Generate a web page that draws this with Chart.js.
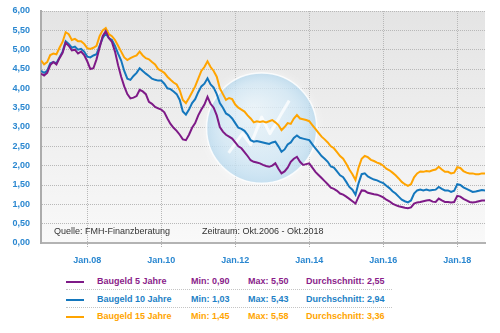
<!DOCTYPE html>
<html><head><meta charset="utf-8">
<script src="https://cdn.jsdelivr.net/npm/chart.js@4"></script>
<style>
html,body{margin:0;padding:0;background:#fff;width:500px;height:333px;overflow:hidden;font-family:"Liberation Sans",Arial,sans-serif;}
#wrap{position:relative;width:500px;height:333px;}
#c{position:absolute;left:0;top:0;}
.lg{position:absolute;font-size:9px;font-weight:bold;line-height:11px;white-space:nowrap;}
.sw{position:absolute;height:2px;width:18px;}
.sep{position:absolute;left:66px;width:326px;height:0;border-top:1px dotted #c4c4c4;}
.note{position:absolute;font-size:9px;color:#333;line-height:11px;white-space:nowrap;}
</style></head>
<body><div id="wrap">
<canvas id="c" width="500" height="270"></canvas>
<div class="note" style="left:54px;top:226px">Quelle: FMH-Finanzberatung</div>
<div class="note" style="left:202px;top:226px">Zeitraum: Okt.2006 - Okt.2018</div>
<div id="legend"></div>
</div>
<script>
// ---- data ----
const seriesNames = ['Baugeld 5 Jahre', 'Baugeld 10 Jahre', 'Baugeld 15 Jahre'];
const seriesMin = ['0,90', '1,03', '1,45'];
const seriesMax = ['5,50', '5,43', '5,58'];
const seriesAvg = ['2,55', '2,94', '3,36'];
const tickYears = [2008, 2010, 2012, 2014, 2016, 2018];
const tickLabels = ['Jan.08', 'Jan.10', 'Jan.12', 'Jan.14', 'Jan.16', 'Jan.18'];
const yTicks = [0, 0.5, 1, 1.5, 2, 2.5, 3, 3.5, 4, 4.5, 5, 5.5, 6];

// monthly categories Okt.2006 .. Okt.2018
const months = [];
for (let y = 2006, m = 10; y < 2018 || (y === 2018 && m <= 10); m++) {
  if (m > 12) { m = 1; y++; }
  months.push(y + '-' + String(m).padStart(2, '0'));
}

const baugeld5 = [
4.38,4.33,4.40,4.60,4.68,4.62,4.78,4.92,5.18,5.10,4.98,5.00,
4.90,4.95,4.86,4.70,4.50,4.52,4.75,5.05,5.35,5.48,5.30,5.20,
4.95,4.60,4.30,4.05,3.85,3.74,3.76,3.80,3.96,3.92,3.85,3.65,
3.60,3.52,3.48,3.45,3.38,3.22,3.08,2.98,2.90,2.80,2.68,2.66,
2.80,2.98,3.10,3.30,3.45,3.58,3.78,3.60,3.50,3.30,3.00,2.88,
2.80,2.75,2.70,2.60,2.50,2.45,2.35,2.25,2.14,2.10,2.08,2.06,
2.02,1.99,1.97,2.00,2.06,1.92,1.80,1.85,1.95,2.10,2.18,2.23,
2.10,2.02,2.04,2.06,1.95,1.84,1.76,1.68,1.60,1.52,1.43,1.40,
1.35,1.28,1.25,1.20,1.14,1.08,1.02,1.20,1.36,1.35,1.30,1.28,
1.26,1.25,1.22,1.18,1.12,1.08,1.02,0.98,0.95,0.93,0.91,0.90,
0.92,1.02,1.05,1.06,1.08,1.10,1.11,1.07,1.06,1.15,1.10,1.06,
1.06,1.05,1.06,1.22,1.20,1.14,1.10,1.06,1.05,1.06,1.08,1.10,
1.10];
const baugeld10 = [
4.45,4.40,4.45,4.65,4.68,4.65,4.80,4.95,5.22,5.15,5.05,5.08,
5.00,5.02,4.95,4.82,4.80,4.85,4.88,5.10,5.30,5.42,5.30,5.25,
5.10,4.90,4.72,4.45,4.25,4.22,4.32,4.40,4.52,4.45,4.38,4.32,
4.25,4.22,4.20,4.20,4.12,4.00,3.98,3.92,3.85,3.70,3.40,3.32,
3.45,3.62,3.72,3.90,4.05,4.12,4.26,4.10,4.02,3.85,3.62,3.50,
3.35,3.30,3.22,3.10,2.98,2.95,2.90,2.80,2.66,2.62,2.64,2.62,
2.60,2.58,2.56,2.60,2.62,2.50,2.36,2.42,2.55,2.60,2.72,2.78,
2.72,2.70,2.68,2.66,2.55,2.45,2.35,2.25,2.18,2.10,1.98,1.95,
1.85,1.75,1.70,1.58,1.45,1.38,1.25,1.55,1.78,1.80,1.72,1.68,
1.64,1.62,1.58,1.55,1.48,1.42,1.34,1.28,1.20,1.12,1.08,1.05,
1.10,1.28,1.36,1.38,1.36,1.38,1.36,1.37,1.38,1.45,1.40,1.36,
1.36,1.32,1.35,1.52,1.50,1.44,1.40,1.36,1.32,1.33,1.35,1.37,
1.36];
const baugeld15 = [
4.72,4.62,4.68,4.86,4.90,4.88,5.05,5.20,5.45,5.40,5.25,5.28,
5.22,5.22,5.15,5.04,5.02,5.05,5.10,5.35,5.50,5.56,5.40,5.35,
5.25,5.10,4.95,4.80,4.73,4.78,4.82,4.85,4.95,4.85,4.78,4.75,
4.68,4.62,4.50,4.45,4.40,4.30,4.22,4.15,4.10,3.95,3.70,3.62,
3.75,3.90,4.05,4.25,4.45,4.55,4.70,4.55,4.45,4.30,4.00,3.85,
3.70,3.75,3.72,3.58,3.50,3.45,3.40,3.30,3.22,3.12,3.15,3.13,
3.15,3.12,3.15,3.18,3.12,3.05,2.92,3.00,3.10,3.08,3.22,3.31,
3.22,3.20,3.18,3.15,3.05,2.95,2.85,2.75,2.68,2.60,2.50,2.45,
2.35,2.25,2.18,2.05,1.90,1.78,1.63,1.95,2.18,2.25,2.22,2.15,
2.12,2.08,2.05,2.00,1.92,1.88,1.82,1.75,1.67,1.58,1.52,1.48,
1.52,1.70,1.80,1.85,1.84,1.86,1.85,1.88,1.90,1.97,1.90,1.84,
1.84,1.80,1.82,1.96,1.94,1.86,1.82,1.80,1.80,1.78,1.78,1.80,
1.80];

const lineColors = ['#7e1a87', '#1477bd', '#ffa400'];
const textColors = ['#8a1c8a', '#1d7fc6', '#ffa400'];
const axisText = '#2a87d0';

// ---- build ----
const toX = s => { const [y, m] = s.split('-').map(Number); return y + (m - 1) / 12; };
const xs = months.map(toX);
const allSeries = [baugeld5, baugeld10, baugeld15];

const bgPlugin = {
  id: 'bg',
  beforeDraw(chart) {
    const {ctx, chartArea: a} = chart;
    const g = ctx.createLinearGradient(0, a.top, 0, a.bottom);
    g.addColorStop(0, '#e4e4e4');
    g.addColorStop(1, '#f9f9f9');
    ctx.save();
    ctx.fillStyle = g;
    ctx.fillRect(a.left, a.top, a.right - a.left, a.bottom - a.top);
    ctx.restore();
  },
  beforeDatasetsDraw(chart) {
    const {ctx, chartArea: a} = chart;
    const cx = a.left + (a.right - a.left) * 0.497;
    const cy = a.top + (a.bottom - a.top) * 0.505;
    const r = (a.right - a.left) * 0.124;
    ctx.save();
    ctx.shadowColor = 'rgba(255,255,255,1)';
    ctx.shadowBlur = 8;
    const g = ctx.createRadialGradient(cx - r * 0.15, cy - r * 0.35, r * 0.05, cx, cy, r);
    g.addColorStop(0, 'rgba(222,240,250,0.5)');
    g.addColorStop(0.7, 'rgba(190,222,242,0.55)');
    g.addColorStop(1, 'rgba(165,208,235,0.6)');
    ctx.fillStyle = g;
    ctx.beginPath(); ctx.arc(cx, cy, r, 0, Math.PI * 2); ctx.fill();
    ctx.shadowBlur = 0;
    ctx.strokeStyle = 'rgba(255,255,255,0.8)';
    ctx.lineWidth = 1.5;
    ctx.stroke();
    ctx.strokeStyle = 'rgba(255,255,255,0.75)';
    ctx.lineWidth = 3;
    ctx.lineJoin = 'round';
    const pts = [[-0.6, 0.45], [-0.35, 0.1], [-0.2, 0.3], [0.0, -0.2], [0.15, 0.1], [0.35, -0.25], [0.5, -0.5]];
    ctx.beginPath();
    pts.forEach((p, i) => { const px = cx + p[0] * r, py = cy + p[1] * r; i ? ctx.lineTo(px, py) : ctx.moveTo(px, py); });
    ctx.stroke();
    ctx.restore();
  }
};

new Chart(document.getElementById('c'), {
  type: 'line',
  data: {
    datasets: allSeries.map((s, i) => ({
      label: seriesNames[i],
      data: s.map((v, j) => ({x: xs[j], y: v})),
      borderColor: lineColors[i],
      borderWidth: 2,
      pointRadius: 0,
      tension: 0,
      fill: false
    }))
  },
  options: {
    responsive: false,
    animation: false,
    devicePixelRatio: 1,
    layout: {padding: {top: 11, right: 15, left: 0, bottom: 0}},
    plugins: {legend: {display: false}, tooltip: {enabled: false}},
    scales: {
      x: {
        type: 'linear',
        min: xs[0],
        max: xs[xs.length - 1],
        afterFit: s => { s.height = 27; s.paddingLeft = 0; s.paddingRight = 0; },
        afterBuildTicks: s => { s.ticks = tickYears.map(v => ({value: v})); },
        ticks: {
          autoSkip: false, maxRotation: 0, padding: 7,
          color: axisText,
          font: {family: '"Liberation Sans", Arial, sans-serif', size: 9, weight: 'bold'},
          callback: (v) => tickLabels[tickYears.indexOf(v)]
        },
        grid: {color: '#b8b8b8', lineWidth: 1, tickLength: 5, tickColor: '#b0b0b0', tickBorderDash: [1, 1]},
        border: {display: true, color: '#b3b3b3', width: 2, dash: [1, 1]}
      },
      y: {
        min: 0, max: 6,
        afterFit: s => { s.width = 41; s.paddingTop = 0; s.paddingBottom = 0; },
        afterBuildTicks: s => { s.ticks = yTicks.map(v => ({value: v})); },
        ticks: {
          padding: 11,
          color: axisText,
          font: {family: '"Liberation Sans", Arial, sans-serif', size: 9, weight: 'bold'},
          callback: v => v.toFixed(2).replace('.', ',')
        },
        grid: {color: '#b8b8b8', lineWidth: 1, drawTicks: false},
        border: {display: true, color: '#acacac', width: 2, dash: [1, 1]}
      }
    }
  },
  plugins: [bgPlugin]
});

// ---- legend table ----
const lg = document.getElementById('legend');
const rowTops = [275.5, 293.5, 311];
let html = '';
seriesNames.forEach((n, i) => {
  const t = rowTops[i];
  const c = textColors[i];
  html += `<div class="sw" style="left:66px;top:${t + 5}px;background:${lineColors[i]}"></div>`;
  html += `<div class="lg" style="left:97px;top:${t}px;color:${c}">${n}</div>`;
  html += `<div class="lg" style="left:191px;top:${t}px;color:${c}">Min: ${seriesMin[i]}</div>`;
  html += `<div class="lg" style="left:248px;top:${t}px;color:${c}">Max: ${seriesMax[i]}</div>`;
  html += `<div class="lg" style="left:306px;top:${t}px;color:${c}">Durchschnitt: ${seriesAvg[i]}</div>`;
  if (i < seriesNames.length - 1) html += `<div class="sep" style="top:${t + 13}px"></div>`;
});
lg.innerHTML = html;
</script>
</body></html>
